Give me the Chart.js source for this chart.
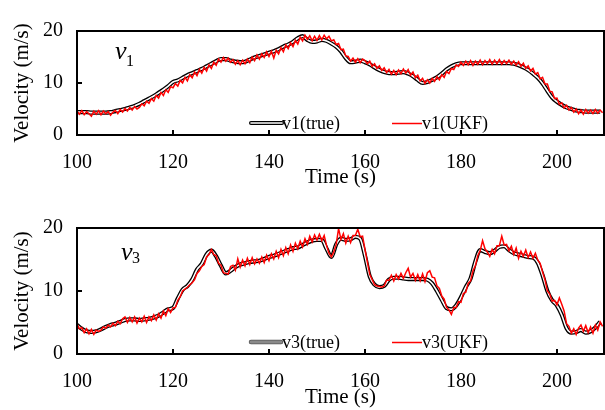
<!DOCTYPE html>
<html><head><meta charset="utf-8">
<script src="https://cdn.jsdelivr.net/npm/chart.js@4"></script>
<style>
html,body{margin:0;padding:0;background:#fff;}
canvas{display:block;}
</style></head><body>
<canvas id="c1" width="605" height="191"></canvas>
<canvas id="c2" width="605" height="219"></canvas>
<script>
// ---- axis ticks ----
const xTicks = [100, 120, 140, 160, 180, 200];
const yTicks = [0, 10, 20];
const xMin = 100, xMax = 209.8;

// sampling grids (seconds)
const trueStart = 100, trueStep = 1;   // true series: one value per second
const ukfStart = 100, ukfStep = 0.5;   // UKF series: one value per half second

// ---- v1 true (t = 100 ... 209) ----
const v1True = [
  4.4,4.4,4.4,4.3,4.3,4.3,4.3,4.4,4.6,4.8,
  5.0,5.3,5.6,6.0,6.5,7.0,7.5,8.1,8.7,9.4,
  10.2,10.5,11.0,11.5,11.9,12.3,12.7,13.2,13.7,14.2,
  14.6,14.6,14.3,14.1,14.0,14.1,14.5,14.9,15.2,15.5,
  15.8,16.1,16.5,17.0,17.4,17.9,18.6,19.0,18.3,17.9,
  18.0,18.3,18.1,17.6,17.0,16.1,14.8,14.0,14.1,14.3,
  14.0,13.6,13.0,12.5,12.1,11.9,11.9,12.0,12.1,11.8,
  11.3,10.6,10.0,10.2,10.6,11.1,11.8,12.6,13.2,13.6,
  13.8,13.8,13.8,13.8,13.8,13.8,13.8,13.8,13.8,13.8,
  13.8,13.7,13.4,13.0,12.5,11.8,11.0,9.9,8.5,7.2,
  6.4,5.8,5.3,5.0,4.7,4.6,4.5,4.5,4.5,4.5
];
// ---- v1 UKF (t = 100 ... 209.5, 0.5 s) ----
const v1UKF = [
  4.6,4.0,4.7,3.9,4.5,4.1,3.6,4.6,4.0,4.7,
  3.9,4.6,4.1,4.5,3.8,4.4,4.7,4.1,4.9,4.4,
  5.1,4.6,5.3,4.8,5.5,5.0,5.3,6.0,5.6,6.5,
  6.1,7.0,6.5,7.6,7.1,8.2,7.6,8.7,8.2,9.3,
  9.1,9.9,9.4,10.5,10.0,11.1,10.4,11.6,11.0,12.1,
  11.4,12.6,11.9,13.0,12.3,13.5,12.8,14.0,13.4,14.6,
  14.0,14.9,14.2,14.8,14.0,14.5,13.6,14.3,13.5,14.4,
  13.7,14.6,13.9,15.0,14.3,15.4,14.6,15.6,14.9,16.0,
  15.1,16.1,14.8,16.3,15.6,16.8,16.0,17.3,16.6,17.7,
  17.0,18.2,17.5,18.8,18.1,19.2,18.4,19.1,18.1,19.0,
  18.2,19.1,18.3,19.2,18.5,19.0,18.1,18.3,17.4,17.6,
  16.4,16.5,15.2,15.1,14.2,14.8,14.0,14.7,13.9,14.6,
  14.3,13.7,14.2,13.2,13.7,12.8,13.3,12.4,12.9,12.0,
  12.6,11.7,12.4,11.6,12.5,11.8,12.7,11.9,12.6,11.5,
  12.1,11.0,11.5,10.4,10.9,9.9,10.6,10.0,10.9,10.3,
  11.2,10.6,11.6,11.1,12.2,11.8,12.8,12.6,13.5,13.2,
  14.0,13.4,14.2,13.5,14.3,13.4,14.2,13.6,14.4,13.5,
  14.3,13.7,14.5,13.6,14.4,13.7,14.5,13.6,14.3,13.7,
  14.4,13.6,14.2,13.4,14.1,13.2,13.8,12.8,13.3,12.3,
  12.8,11.7,12.0,10.8,11.1,9.8,9.8,8.4,8.3,7.0,
  7.1,5.9,6.2,5.2,5.7,4.8,5.3,4.4,5.0,4.1,
  4.8,4.0,4.9,4.2,4.8,4.1,4.9,4.2,4.8,4.3
];
// ---- v3 true (t = 100 ... 209) ----
const v3True = [
  4.6,4.0,3.6,3.5,3.6,3.9,4.3,4.6,4.8,5.1,
  5.4,5.5,5.5,5.4,5.5,5.6,5.8,6.1,6.6,7.1,
  7.3,8.8,10.2,10.8,11.8,13.4,14.3,15.8,16.4,15.5,
  14.0,12.8,13.2,13.8,14.2,14.4,14.6,14.7,14.8,15.1,
  15.4,15.6,15.9,16.2,16.5,16.8,16.9,17.3,17.7,18.0,
  18.1,18.1,16.7,15.4,17.4,18.3,18.1,18.2,18.6,18.3,
  15.6,12.3,11.0,10.6,10.8,11.8,12.1,12.1,12.0,11.9,
  11.9,11.9,11.9,11.8,11.2,10.0,8.6,7.3,7.1,7.7,
  9.0,10.6,12.0,14.7,16.5,16.2,16.0,16.4,17.0,17.1,
  16.5,16.0,15.8,15.6,15.4,15.3,14.5,12.5,10.0,8.5,
  7.7,6.2,4.1,3.4,3.5,3.8,3.4,3.6,4.2,5.1
];
// ---- v3 UKF (t = 100 ... 209.5, 0.5 s) ----
const v3UKF = [
  4.8,4.0,4.2,3.4,4.0,3.2,3.9,3.1,3.8,3.6,
  3.8,4.3,4.1,4.6,4.3,4.9,4.5,5.2,4.8,5.6,
  5.9,5.0,5.8,5.1,5.9,4.9,5.7,5.1,6.0,5.0,
  5.9,5.3,6.2,5.4,6.4,5.7,6.8,6.1,7.2,6.6,
  7.3,7.4,8.5,9.1,10.0,10.3,10.6,11.0,11.3,11.8,
  12.8,13.2,13.9,14.2,15.4,15.8,16.6,15.8,15.6,14.4,
  14.1,12.9,12.8,12.7,13.9,14.1,13.3,15.1,13.8,14.9,
  14.0,15.2,14.2,15.3,14.3,15.1,14.4,15.4,14.5,15.7,
  14.8,15.9,15.1,16.3,15.3,16.6,15.6,16.9,15.9,17.3,
  16.3,17.6,16.7,17.9,17.0,18.3,17.4,18.7,17.8,18.9,
  18.1,19.0,18.0,18.8,17.2,16.0,15.4,16.2,17.4,19.9,
  18.2,19.1,17.6,18.7,17.7,18.8,18.8,19.8,18.6,18.7,
  16.6,14.6,12.6,11.8,11.0,10.8,10.7,10.6,10.8,11.7,
  11.7,12.5,11.6,12.6,11.9,12.8,12.0,12.9,13.6,12.2,
  12.8,11.7,12.6,11.6,12.7,11.5,12.9,13.2,12.2,12.1,
  10.8,10.4,9.2,8.7,7.4,7.0,6.3,7.4,7.4,8.3,
  8.2,9.6,9.8,11.2,11.6,13.2,14.0,15.6,16.4,18.0,
  16.7,16.2,15.5,16.6,15.9,17.2,17.2,18.7,17.3,17.4,
  16.4,17.1,15.8,16.8,15.2,16.3,15.5,16.5,15.3,16.2,
  15.2,16.0,14.9,14.4,13.0,11.8,10.0,9.5,8.4,8.5,
  7.8,8.9,7.9,6.8,4.8,4.4,3.3,4.0,3.1,4.1,
  4.6,3.6,4.5,3.4,4.3,3.3,4.6,3.8,5.1,4.4
];

const legendTop = ['v1(true)', 'v1(UKF)'];
const legendBottom = ['v3(true)', 'v3(UKF)'];
const xTitle = 'Time (s)';
const yTitle = 'Velocity (m/s)';

const SERIF = "'Liberation Serif', 'Times New Roman', serif";
Chart.defaults.font.family = SERIF;
Chart.defaults.color = '#000';

function toPoints(vals, start, step) {
  return vals.map((v, i) => ({ x: start + i * step, y: v }));
}

function makeChart(id, trueVals, ukfVals, names, sub, opt) {
  const trueData = toPoints(trueVals, trueStart, trueStep);
  const ukfData = toPoints(ukfVals, ukfStart, ukfStep);
  const decor = {
    id: 'decor',
    afterDraw(chart) {
      const { ctx, chartArea: a } = chart;
      ctx.save();
      // frame
      ctx.strokeStyle = '#000';
      ctx.lineWidth = 2;
      ctx.strokeRect(a.left, a.top, a.right - a.left, a.bottom - a.top);
      // legend
      const ly = a.bottom - 12;
      const s1 = a.left + 174, s2 = a.left + 315;
      ctx.lineCap = 'round';
      if (opt.grayLegend) {
        ctx.strokeStyle = '#555'; ctx.lineWidth = 4.5;
        ctx.beginPath(); ctx.moveTo(s1, ly); ctx.lineTo(s1 + 30, ly); ctx.stroke();
        ctx.strokeStyle = '#8a8a8a'; ctx.lineWidth = 3;
        ctx.beginPath(); ctx.moveTo(s1, ly); ctx.lineTo(s1 + 30, ly); ctx.stroke();
      } else {
        ctx.strokeStyle = '#000'; ctx.lineWidth = 4;
        ctx.beginPath(); ctx.moveTo(s1, ly); ctx.lineTo(s1 + 31, ly); ctx.stroke();
        ctx.strokeStyle = '#fff'; ctx.lineWidth = 1.6;
        ctx.beginPath(); ctx.moveTo(s1, ly); ctx.lineTo(s1 + 31, ly); ctx.stroke();
      }
      ctx.lineCap = 'butt';
      ctx.strokeStyle = '#ff0000'; ctx.lineWidth = 1.5;
      ctx.beginPath(); ctx.moveTo(s2, ly + 0.5); ctx.lineTo(s2 + 30, ly + 0.5); ctx.stroke();
      ctx.fillStyle = '#000';
      ctx.font = '18px ' + SERIF;
      ctx.textBaseline = 'middle';
      ctx.textAlign = 'left';
      ctx.fillText(names[0], s1 + 31, ly + 1);
      ctx.fillText(names[1], s2 + 30, ly + 1);
      // subplot label
      ctx.textBaseline = 'alphabetic';
      ctx.font = 'italic 26px ' + SERIF;
      ctx.fillText('v', a.left + opt.lx, a.top + opt.ly);
      const vw = ctx.measureText('v').width;
      ctx.font = '16px ' + SERIF;
      ctx.fillText(sub, a.left + opt.lx + vw - 0.5, a.top + opt.ly + opt.subDy);
      ctx.restore();
    }
  };
  const tickFont = { family: SERIF, size: 20 };
  const titleFont = { family: SERIF, size: 21 };
  return new Chart(document.getElementById(id), {
    type: 'line',
    data: {
      datasets: [
        { label: names[1], data: ukfData, borderColor: '#ff0000', borderWidth: 1.5,
          pointRadius: 0, tension: 0, order: 0 },
        { label: names[0] + ' core', data: trueData, borderColor: '#ffffff', borderWidth: 1.6,
          pointRadius: 0, cubicInterpolationMode: 'monotone', order: 1 },
        { label: names[0], data: trueData, borderColor: '#000000', borderWidth: 4.2,
          pointRadius: 0, cubicInterpolationMode: 'monotone', order: 2 }
      ]
    },
    options: {
      responsive: false,
      animation: false,
      devicePixelRatio: 1,
      layout: { padding: { top: opt.top, right: 1, left: 0, bottom: 0 }, autoPadding: false },
      plugins: { legend: { display: false }, tooltip: { enabled: false } },
      scales: {
        x: {
          type: 'linear', min: xMin, max: xMax,
          afterBuildTicks: s => { s.ticks = xTicks.map(v => ({ value: v })); },
          afterFit: s => { s.height = opt.xh; },
          ticks: { font: tickFont, color: '#000', padding: 21, maxRotation: 0, autoSkip: false },
          grid: { drawOnChartArea: false, drawTicks: true, tickLength: -5, color: '#000', lineWidth: 2 },
          border: { display: false },
          title: { display: true, text: xTitle, font: titleFont, color: '#000', padding: { top: 0, bottom: opt.tb } }
        },
        y: {
          min: 0, max: 20,
          afterBuildTicks: s => { s.ticks = yTicks.map(v => ({ value: v })); },
          afterFit: s => { s.width = 77; },
          ticks: { font: tickFont, color: '#000', padding: 19 },
          grid: { drawOnChartArea: false, drawTicks: true, tickLength: -5, color: '#000', lineWidth: 2 },
          border: { display: false },
          title: { display: true, text: yTitle, font: titleFont, color: '#000', padding: { top: 10, bottom: 0 } }
        }
      }
    },
    plugins: [decor]
  });
}

makeChart('c1', v1True, v1UKF, legendTop, '1',
  { top: 14, xh: 56, tb: 1, lx: 38, ly: 28, subDy: 7, grayLegend: false });
makeChart('c2', v3True, v3UKF, legendBottom, '3',
  { top: 37, xh: 56, tb: 0, lx: 44, ly: 32, subDy: 3, grayLegend: true });
</script>
</body></html>
